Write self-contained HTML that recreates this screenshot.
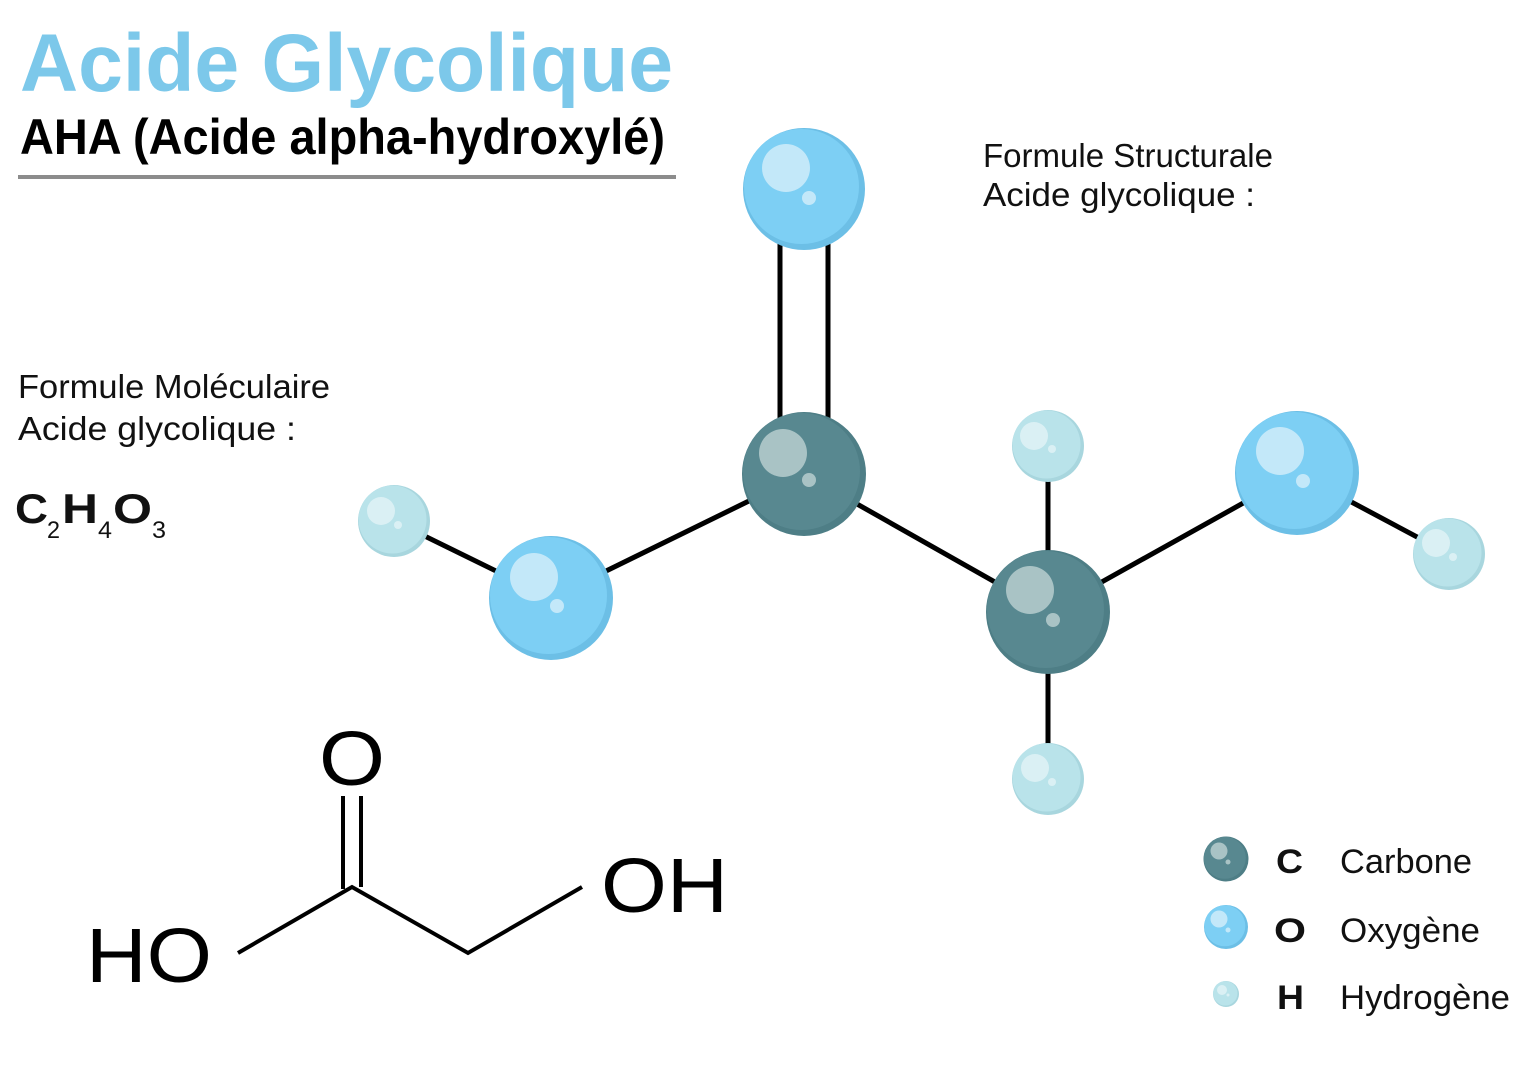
<!DOCTYPE html>
<html><head><meta charset="utf-8"><style>
html,body{margin:0;padding:0;background:#fff;}
svg{display:block;}
</style></head><body>
<svg width="1536" height="1079" viewBox="0 0 1536 1079" xmlns="http://www.w3.org/2000/svg">
<rect width="1536" height="1079" fill="#fff"/>
<!-- Titles -->
<text x="20" y="91" font-family="Liberation Sans, Arial, sans-serif" font-weight="bold" font-size="82" fill="#7cc8ea" textLength="653" lengthAdjust="spacingAndGlyphs">Acide Glycolique</text>
<text x="20" y="154" font-family="Liberation Sans, Arial, sans-serif" font-weight="bold" font-size="50" fill="#000" textLength="645" lengthAdjust="spacingAndGlyphs">AHA (Acide alpha-hydroxylé)</text>
<rect x="18" y="175" width="658" height="4" fill="#8c8c8c"/>

<!-- Headings -->
<g font-family="Liberation Sans, Arial, sans-serif" font-size="33" fill="#111">
<text x="983" y="167" textLength="290" lengthAdjust="spacingAndGlyphs">Formule Structurale</text>
<text x="983" y="206" textLength="272" lengthAdjust="spacingAndGlyphs">Acide glycolique :</text>
<text x="18" y="398" textLength="312" lengthAdjust="spacingAndGlyphs">Formule Moléculaire</text>
<text x="18" y="440" textLength="278" lengthAdjust="spacingAndGlyphs">Acide glycolique :</text>
</g>

<!-- C2H4O3 -->
<g font-family="Liberation Sans, Arial, sans-serif" fill="#111">
<text x="15" y="523" font-size="42" font-weight="bold" textLength="33" lengthAdjust="spacingAndGlyphs">C</text>
<text x="47" y="538" font-size="24" textLength="13" lengthAdjust="spacingAndGlyphs">2</text>
<text x="62" y="523" font-size="42" font-weight="bold" textLength="36" lengthAdjust="spacingAndGlyphs">H</text>
<text x="98" y="538" font-size="24" textLength="14" lengthAdjust="spacingAndGlyphs">4</text>
<text x="113" y="523" font-size="42" font-weight="bold" textLength="39" lengthAdjust="spacingAndGlyphs">O</text>
<text x="152" y="538" font-size="24" textLength="14" lengthAdjust="spacingAndGlyphs">3</text>
</g>

<!-- Skeletal formula -->
<g stroke="#000" stroke-width="4" fill="none" stroke-linecap="butt">
<line x1="343" y1="796" x2="343" y2="889"/>
<line x1="361" y1="796" x2="361" y2="887"/>
<polyline points="238,953 352,887 468,953 582,887"/>
</g>
<g font-family="Liberation Sans, Arial, sans-serif" font-size="77" fill="#000">
<text x="319" y="785" textLength="66" lengthAdjust="spacingAndGlyphs">O</text>
<text x="86" y="982" textLength="126" lengthAdjust="spacingAndGlyphs">HO</text>
<text x="601" y="912" textLength="127" lengthAdjust="spacingAndGlyphs">OH</text>
</g>

<!-- 3D model bonds -->
<g stroke="#000" stroke-width="5" fill="none">
<line x1="780" y1="240" x2="780" y2="420"/>
<line x1="828" y1="240" x2="828" y2="420"/>
<line x1="551" y1="598" x2="804" y2="474"/>
<line x1="804" y1="474" x2="1048" y2="612"/>
<line x1="1048" y1="446" x2="1048" y2="779"/>
<line x1="1048" y1="612" x2="1297" y2="473"/>
<line x1="1297" y1="473" x2="1449" y2="554"/>
<line x1="394" y1="521" x2="551" y2="598"/>
</g>

<!-- Oxygen atoms -->
<g>
<circle cx="804" cy="189" r="61" fill="#6cbfe6"/>
<circle cx="801.5" cy="186.5" r="57.5" fill="#7dcff4"/>
<circle cx="786" cy="168" r="24" fill="#c3e8f9"/>
<circle cx="809" cy="198" r="7" fill="#c3e8f9"/>

<circle cx="551" cy="598" r="62" fill="#6cbfe6"/>
<circle cx="548.5" cy="595.5" r="58.5" fill="#7dcff4"/>
<circle cx="534" cy="577" r="24" fill="#c3e8f9"/>
<circle cx="557" cy="606" r="7" fill="#c3e8f9"/>

<circle cx="1297" cy="473" r="62" fill="#6cbfe6"/>
<circle cx="1294.5" cy="470.5" r="58.5" fill="#7dcff4"/>
<circle cx="1280" cy="451" r="24" fill="#c3e8f9"/>
<circle cx="1303" cy="481" r="7" fill="#c3e8f9"/>
</g>

<!-- Carbon atoms -->
<g>
<circle cx="804" cy="474" r="62" fill="#4e7e86"/>
<circle cx="801.5" cy="471.5" r="58.5" fill="#588890"/>
<circle cx="783" cy="453" r="24" fill="#a9c3c5"/>
<circle cx="809" cy="480" r="7" fill="#a9c3c5"/>

<circle cx="1048" cy="612" r="62" fill="#4e7e86"/>
<circle cx="1045.5" cy="609.5" r="58.5" fill="#588890"/>
<circle cx="1030" cy="590" r="24" fill="#a9c3c5"/>
<circle cx="1053" cy="620" r="7" fill="#a9c3c5"/>
</g>

<!-- Hydrogen atoms -->
<g>
<circle cx="1048" cy="446" r="36" fill="#a8d6de"/>
<circle cx="1046.5" cy="444.5" r="34" fill="#b9e3ea"/>
<circle cx="1034" cy="436" r="14" fill="#daf0f4"/>
<circle cx="1052" cy="449" r="4" fill="#daf0f4"/>

<circle cx="1048" cy="779" r="36" fill="#a8d6de"/>
<circle cx="1046.5" cy="777.5" r="34" fill="#b9e3ea"/>
<circle cx="1035" cy="768" r="14" fill="#daf0f4"/>
<circle cx="1052" cy="782" r="4" fill="#daf0f4"/>

<circle cx="394" cy="521" r="36" fill="#a8d6de"/>
<circle cx="392.5" cy="519.5" r="34" fill="#b9e3ea"/>
<circle cx="381" cy="511" r="14" fill="#daf0f4"/>
<circle cx="398" cy="525" r="4" fill="#daf0f4"/>

<circle cx="1449" cy="554" r="36" fill="#a8d6de"/>
<circle cx="1447.5" cy="552.5" r="34" fill="#b9e3ea"/>
<circle cx="1436" cy="543" r="14" fill="#daf0f4"/>
<circle cx="1453" cy="557" r="4" fill="#daf0f4"/>
</g>

<!-- Legend -->
<g>
<circle cx="1226" cy="859" r="22.5" fill="#4e7e86"/>
<circle cx="1224.8" cy="857.8" r="21" fill="#588890"/>
<circle cx="1219" cy="851" r="8.5" fill="#a9c3c5"/>
<circle cx="1228" cy="862" r="2.5" fill="#a9c3c5"/>

<circle cx="1226" cy="927" r="22" fill="#6cbfe6"/>
<circle cx="1224.8" cy="925.8" r="20.5" fill="#7dcff4"/>
<circle cx="1219" cy="919" r="8.5" fill="#c3e8f9"/>
<circle cx="1228" cy="930" r="2.5" fill="#c3e8f9"/>

<circle cx="1226" cy="994" r="13" fill="#a8d6de"/>
<circle cx="1225.3" cy="993.3" r="12.2" fill="#b9e3ea"/>
<circle cx="1222" cy="990" r="5" fill="#daf0f4"/>
<circle cx="1228" cy="995" r="1.5" fill="#daf0f4"/>
</g>
<g font-family="Liberation Sans, Arial, sans-serif" fill="#111">
<text x="1276" y="873" font-size="34" font-weight="bold" textLength="27" lengthAdjust="spacingAndGlyphs">C</text>
<text x="1274" y="942" font-size="34" font-weight="bold" textLength="32" lengthAdjust="spacingAndGlyphs">O</text>
<text x="1277" y="1009" font-size="34" font-weight="bold" textLength="27" lengthAdjust="spacingAndGlyphs">H</text>
<text x="1340" y="873" font-size="34" textLength="132" lengthAdjust="spacingAndGlyphs">Carbone</text>
<text x="1340" y="942" font-size="34" textLength="140" lengthAdjust="spacingAndGlyphs">Oxygène</text>
<text x="1340" y="1009" font-size="34" textLength="170" lengthAdjust="spacingAndGlyphs">Hydrogène</text>
</g>
</svg>
</body></html>
